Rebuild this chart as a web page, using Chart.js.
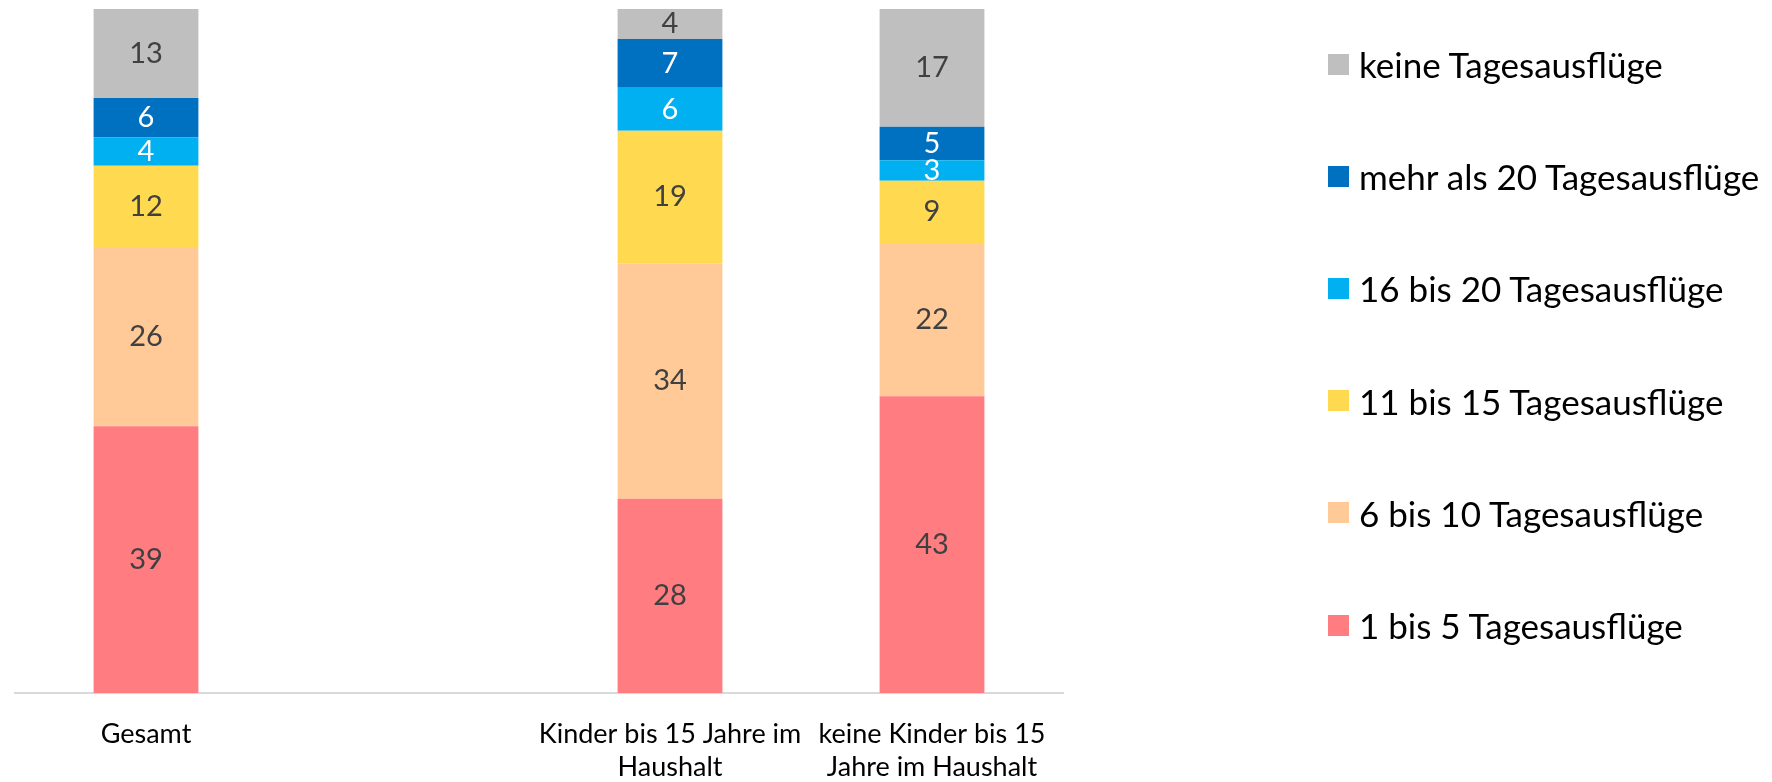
<!DOCTYPE html>
<html>
<head>
<meta charset="utf-8">
<script src="https://cdn.jsdelivr.net/npm/chart.js@4/dist/chart.umd.min.js"></script>
<style>
    html, body { margin: 0; padding: 0; background: #ffffff; }
    #wrap { position: relative; width: 1772px; height: 782px; }
    #legend { position: absolute; left: 1328px; top: 8px; font-family: Lato, sans-serif; font-size: 35px; color: #000000; }
    .item { height: 112.2px; display: flex; align-items: center; }
    .box { width: 21px; height: 21px; margin-right: 10px; flex: none; }
</style>
</head>
<body>
<div id="wrap">
    <canvas id="chart" width="1772" height="782"></canvas>
    <div id="legend"></div>
</div>
<script>
// 카테고리 (두 번째는 빈 자리)
const categories = [
    'Gesamt',
    '',
    ['Kinder bis 15 Jahre im', 'Haushalt'],
    ['keine Kinder bis 15', 'Jahre im Haushalt']
];

// 시리즈 이름
const seriesNames = [
    '1 bis 5 Tagesausflüge',
    '6 bis 10 Tagesausflüge',
    '11 bis 15 Tagesausflüge',
    '16 bis 20 Tagesausflüge',
    'mehr als 20 Tagesausflüge',
    'keine Tagesausflüge'
];

// 값 (%)
const eins_bis_fuenf = [39.0, null, 28.4, 43.4];
const sechs_bis_zehn = [26.2, null, 34.4, 22.4];
const elf_bis_fuenfzehn = [11.9, null, 19.4, 9.1];
const sechzehn_bis_zwanzig = [4.1, null, 6.3, 3.0];
const mehr_als_zwanzig = [5.8, null, 7.1, 4.9];
const keine = [13.0, null, 4.4, 17.2];

const seriesValues = [eins_bis_fuenf, sechs_bis_zehn, elf_bis_fuenfzehn, sechzehn_bis_zwanzig, mehr_als_zwanzig, keine];

// 색상
const seriesColors = ['#FF7C80', '#FFCA97', '#FFD94F', '#00B0F0', '#0070C0', '#BFBFBF'];
const labelColors = ['#404040', '#404040', '#404040', '#ffffff', '#ffffff', '#404040'];

// 막대 안에 값 표시
const barLabels = {
    id: 'barLabels',
    afterDatasetsDraw(chart) {
        const ctx = chart.ctx;
        ctx.save();
        ctx.font = '29px Lato, sans-serif';
        ctx.textAlign = 'center';
        ctx.textBaseline = 'middle';
        chart.data.datasets.forEach((ds, i) => {
            const meta = chart.getDatasetMeta(i);
            meta.data.forEach((bar, j) => {
                const v = ds.data[j];
                if (v === null || v === undefined) return;
                ctx.fillStyle = labelColors[i];
                ctx.fillText(Math.round(v), bar.x, (bar.y + bar.base) / 2);
            });
        });
        ctx.restore();
    }
};

new Chart(document.getElementById('chart'), {
    type: 'bar',
    data: {
        labels: categories,
        datasets: seriesNames.map((name, i) => ({
            label: name,
            data: seriesValues[i],
            backgroundColor: seriesColors[i],
            borderWidth: 0,
            categoryPercentage: 1.0,
            barPercentage: 0.4
        }))
    },
    options: {
        responsive: false,
        animation: false,
        layout: {
            padding: { left: 15, right: 709, top: 9, bottom: 0 }
        },
        plugins: {
            legend: { display: false },
            tooltip: { enabled: false }
        },
        scales: {
            x: {
                stacked: true,
                grid: { display: false },
                border: { display: true, color: '#D9D9D9', width: 2 },
                ticks: {
                    color: '#000000',
                    font: { family: 'Lato, sans-serif', size: 27, lineHeight: 1.25 },
                    padding: 16,
                    maxRotation: 0,
                    autoSkip: false
                },
                afterFit(scale) {
                    scale.height = 89;
                }
            },
            y: {
                stacked: true,
                display: false,
                min: 0,
                max: 100
            }
        }
    },
    plugins: [barLabels]
});

// 범례 (위에서부터 역순)
const legendEl = document.getElementById('legend');
for (let i = seriesNames.length - 1; i >= 0; i--) {
    const row = document.createElement('div');
    row.className = 'item';
    row.innerHTML = '<span class="box" style="background:' + seriesColors[i] + '"></span><span>' + seriesNames[i] + '</span>';
    legendEl.appendChild(row);
}
</script>
</body>
</html>
